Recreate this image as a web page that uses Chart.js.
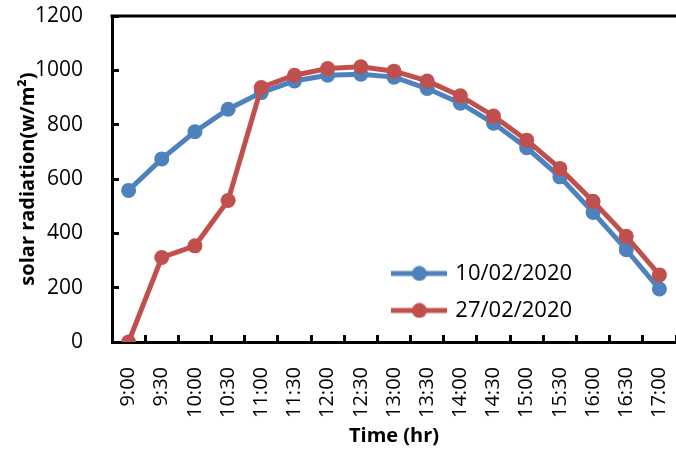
<!DOCTYPE html>
<html>
<head>
<meta charset="utf-8">
<script src="https://cdn.jsdelivr.net/npm/chart.js@4"></script>
<style>
  body { margin: 0; background: #fff; }
</style>
</head>
<body>
<canvas id="solar" width="676" height="454"></canvas>
<script>
// ----------- data -----------
var times = ["9:00", "9:30", "10:00", "10:30", "11:00", "11:30", "12:00", "12:30", "13:00",
  "13:30", "14:00", "14:30", "15:00", "15:30", "16:00", "16:30", "17:00"];
var day1_label = "10/02/2020";
var day1_values = [558, 674, 774, 857, 918, 961, 982, 986, 975, 933, 879, 805, 715, 608, 477, 340, 195];
var day2_label = "27/02/2020";
var day2_values = [0, 311, 354, 521, 937, 982, 1007, 1013, 997, 961, 906, 832, 743, 639, 518, 389, 247];
var y_ticks = [0, 200, 400, 600, 800, 1000, 1200];

var blue = "#4F81BD";
var red = "#C0504D";
var font_family = "'Open Sans', 'DejaVu Sans', sans-serif";

Chart.defaults.color = "#000";
Chart.defaults.font.family = font_family;

// small line + dot picture for the legend
function legendMark(color) {
  var c = document.createElement("canvas");
  c.width = 56;
  c.height = 16;
  var g = c.getContext("2d");
  g.strokeStyle = color;
  g.lineWidth = 5;
  g.beginPath();
  g.moveTo(0, 8);
  g.lineTo(56, 8);
  g.stroke();
  g.fillStyle = color;
  g.beginPath();
  g.arc(28, 8, 7.5, 0, Math.PI * 2);
  g.fill();
  return c;
}

// top border of the plot box
var frameTop = {
  id: "frameTop",
  beforeDatasetsDraw: function (chart) {
    var a = chart.chartArea;
    var y = chart.scales.y.getPixelForValue(y_ticks[y_ticks.length - 1]);
    var ctx = chart.ctx;
    ctx.save();
    ctx.strokeStyle = "#000";
    ctx.lineWidth = 3;
    ctx.beginPath();
    ctx.moveTo(a.left - 1.5, y);
    ctx.lineTo(a.right, y);
    ctx.stroke();
    ctx.restore();
  },
};

// put the legend inside the plot, lower middle
var legendSpot = {
  id: "legendSpot",
  afterLayout: function (chart) {
    var lg = chart.legend;
    var a = chart.chartArea;
    var w = lg.width, h = lg.height;
    lg.left = a.left + (a.right - a.left) * 0.474;
    lg.top = a.top + (a.bottom - a.top) * 0.71;
    lg.right = lg.left + w;
    lg.bottom = lg.top + h;
  },
};

var ctx = document.getElementById("solar").getContext("2d");

var solarChart = new Chart(ctx, {
  type: "line",
  data: {
    labels: times,
    datasets: [
      {
        label: day1_label,
        data: day1_values,
        borderColor: blue,
        backgroundColor: blue,
        borderWidth: 5,
        pointRadius: 7.5,
        pointBorderWidth: 0,
        pointBackgroundColor: blue,
        order: 1,
      },
      {
        label: day2_label,
        data: day2_values,
        borderColor: red,
        backgroundColor: red,
        borderWidth: 5,
        pointRadius: 7.5,
        pointBorderWidth: 0,
        pointBackgroundColor: red,
        order: 0,
      },
    ],
  },
  options: {
    responsive: false,
    animation: false,
    layout: {
      autoPadding: false,
      padding: { top: 16, right: 0, left: 0, bottom: 0 },
    },
    elements: {
      line: { tension: 0 },
      point: { pointStyle: "circle" },
    },
    plugins: {
      tooltip: { enabled: false },
      legend: {
        position: "chartArea",
        align: "start",
        labels: {
          usePointStyle: true,
          pointStyleWidth: 50,
          padding: 15,
          color: "#000",
          font: { size: 22 },
          generateLabels: function (chart) {
            return chart.data.datasets.map(function (ds, i) {
              return {
                text: ds.label,
                pointStyle: legendMark(ds.borderColor),
                fillStyle: ds.borderColor,
                strokeStyle: ds.borderColor,
                lineWidth: 0,
                hidden: false,
                datasetIndex: i,
              };
            });
          },
        },
      },
    },
    scales: {
      x: {
        type: "category",
        offset: true,
        border: { display: true, color: "#000", width: 3 },
        grid: {
          display: true,
          offset: true,
          drawOnChartArea: false,
          drawTicks: true,
          tickLength: -7,
          tickWidth: 3,
          tickColor: "#000",
        },
        ticks: {
          autoSkip: false,
          minRotation: 90,
          maxRotation: 90,
          padding: 32,
          font: { size: 20 },
        },
        title: {
          display: true,
          text: "Time (hr)",
          font: { size: 20, weight: "bold" },
          padding: { top: 0, bottom: 6 },
        },
        afterFit: function (scale) {
          scale.height = 112;
          scale.paddingLeft = 0;
          scale.paddingRight = 0;
        },
      },
      y: {
        min: 0,
        max: 1200,
        border: { display: true, color: "#000", width: 3 },
        grid: {
          display: true,
          drawOnChartArea: false,
          drawTicks: true,
          tickLength: -7,
          tickWidth: 3,
          tickColor: "#000",
        },
        ticks: {
          stepSize: 200,
          padding: 36,
          font: { size: 21 },
          callback: function (v) {
            return y_ticks.indexOf(v) >= 0 ? String(v) : null;
          },
        },
        title: {
          display: true,
          text: "solar radiation(w/m\u00B2)",
          font: { size: 20, weight: "bold" },
          padding: { top: 16, bottom: 0 },
        },
        afterFit: function (scale) {
          scale.width = 112;
          scale.paddingTop = 0;
          scale.paddingBottom = 0;
        },
      },
    },
  },
  plugins: [frameTop, legendSpot],
});
</script>
</body>
</html>
